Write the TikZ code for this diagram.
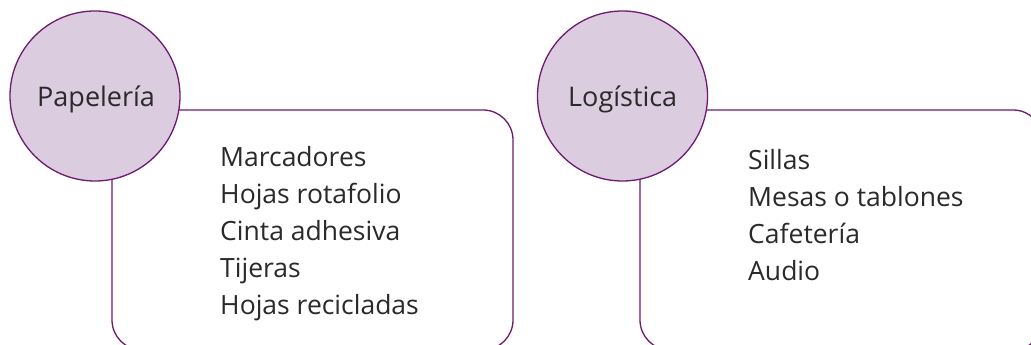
\documentclass[tikz,border=0pt]{standalone}
\usepackage{fontspec}
\setmainfont{Open Sans}
\definecolor{lila}{HTML}{DCCCE0}
\definecolor{morado}{HTML}{6E1A6E}
\definecolor{texto}{HTML}{2A2A2A}
\begin{document}
\begin{tikzpicture}[x=1pt,y=1pt,
  bubble/.style={circle,draw=morado,fill=lila,line width=1.3pt,minimum size=170pt,inner sep=0pt},
  panel/.style={rectangle,draw=morado,line width=1.3pt,rounded corners=30pt,inner sep=0pt},
  label/.style={anchor=base west,inner sep=0pt,text=texto,font=\fontsize{27}{32}\selectfont},
  item/.style={anchor=base west,inner sep=0pt,text=texto,font=\fontsize{26.5}{32}\selectfont}]
\useasboundingbox (0,0) rectangle (1031,345);
\clip (0,0) rectangle (1031,345);
\fill[white] (0,0) rectangle (1031,345);
% panels
\node[panel,minimum width=401pt,minimum height=240pt] (p1) at (312.5,115) {};
\node[panel,minimum width=403pt,minimum height=240pt] (p2) at (841.5,115) {};
% circles
\node[bubble] (c1) at (95,249) {};
\node[bubble] (c2) at (622.5,249) {};
\node[label] (t1) at (37,238) {Papelería};
\node[label] (t2) at (568,238) {Logística};
% left list
\node[item] (a1) at (220,178) {Marcadores};
\node[item] (a2) at (220,141) {Hojas rotafolio};
\node[item] (a3) at (220,104) {Cinta adhesiva};
\node[item] (a4) at (220,67) {Tijeras};
\node[item] (a5) at (220,30) {Hojas recicladas};
% right list
\node[item] (b1) at (748,175) {Sillas};
\node[item] (b2) at (748,138) {Mesas o tablones};
\node[item] (b3) at (748,101) {Cafetería};
\node[item] (b4) at (748,64) {Audio};
\end{tikzpicture}
\end{document}
